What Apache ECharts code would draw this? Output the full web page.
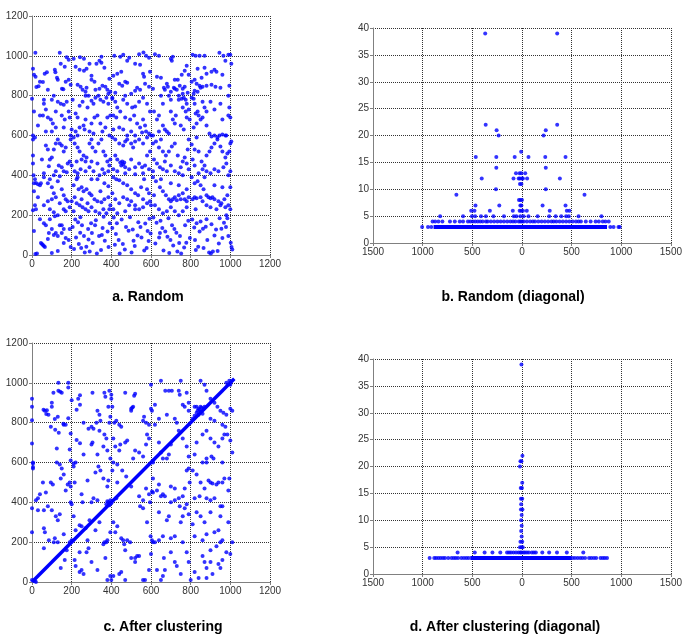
<!DOCTYPE html>
<html>
<head>
<meta charset="utf-8">
<script src="https://cdn.jsdelivr.net/npm/echarts@6/dist/echarts.min.js"></script>
<style>
html, body { margin: 0; padding: 0; background: #fff; }
#main { width: 685px; height: 634px; }
</style>
</head>
<body>
<div id="main"></div>
<script>
// axis ranges [min, max, interval]
var squareRange = [0, 1200, 200];
var diagXRange = [-1500, 1500, 500];
var diagYRange = [0, 40, 5];

var panelTitles = ['a. Random', 'b. Random (diagonal)', 'c. After clustering', 'd. After clustering (diagonal)'];

// a. random ordering, matrix non-zeros
var randomPts = [
  [17,1015],[140,1015],[175,993],[185,980],[5,935],[10,905],[18,895],[22,843],[33,847],[55,868],[64,910],[75,918],[118,918],[126,890],[130,880],[151,835],[158,832],[100,780],[60,780],[0,785],[40,870],[115,930],[170,870],[185,880],[195,855],[110,800],[145,960],[165,945],[80,830],
  [242,993],[262,985],[220,945],[240,930],[262,925],[275,935],[290,960],[230,855],[245,845],[255,830],[270,820],[275,840],[285,800],[300,880],[315,870],[325,960],[340,975],[350,965],[365,940],[320,830],[340,835],[355,850],[370,845],[380,830],[390,885],[395,820],[385,810],[300,900],[210,985],[350,995],
  [415,1000],[445,995],[460,1005],[480,975],[490,990],[540,1008],[562,1017],[575,1000],[590,990],[520,960],[545,955],[560,910],[565,895],[410,900],[430,910],[450,920],[440,860],[455,850],[470,870],[480,865],[500,810],[520,825],[530,840],[545,830],[570,860],[590,845],[420,815],[405,790],[470,800],[595,920],
  [620,1008],[640,1000],[700,985],[705,975],[710,995],[630,895],[650,890],[665,840],[670,830],[685,845],[700,820],[715,840],[720,835],[730,830],[745,850],[760,835],[770,845],[735,880],[755,905],[770,925],[780,950],[790,905],[650,800],[690,800],[740,800],[760,810],[785,815],[720,880],[610,835],[680,860],
  [810,1005],[825,1000],[845,1000],[870,1000],[945,1015],[965,1000],[990,1005],[1000,1005],[1005,960],[975,975],[920,930],[930,920],[905,920],[880,910],[855,890],[820,880],[805,870],[830,860],[845,850],[860,845],[880,850],[905,855],[925,845],[950,840],[995,850],[990,800],[820,825],[835,820],[815,810],[850,840],[960,905],[870,940],[835,935],
  [10,720],[5,600],[15,590],[40,700],[55,700],[70,730],[80,690],[95,680],[105,660],[120,640],[130,770],[145,760],[160,755],[175,770],[185,720],[190,690],[150,700],[165,680],[100,620],[70,620],[160,640],[200,630],[30,650],[120,720],[195,600],[60,760],
  [205,780],[220,710],[230,690],[240,750],[255,770],[270,800],[280,740],[300,775],[310,760],[320,790],[335,800],[345,780],[360,770],[375,790],[385,760],[220,620],[240,640],[260,650],[265,630],[290,620],[300,660],[315,690],[330,700],[345,660],[355,620],[370,640],[380,690],[395,700],[230,600],[270,680],[310,610],[390,600],
  [405,785],[420,770],[430,740],[460,780],[480,760],[505,740],[520,745],[540,770],[560,790],[580,760],[595,720],[410,700],[425,690],[445,720],[470,690],[495,680],[515,700],[530,660],[545,640],[560,680],[575,620],[590,610],[600,600],[410,630],[440,640],[460,630],[500,620],[520,600],[480,600],[555,615],[570,650],
  [615,720],[630,680],[640,700],[660,650],[670,630],[680,620],[700,720],[710,680],[725,700],[740,780],[755,785],[765,790],[775,780],[780,760],[790,730],[760,740],[775,720],[720,660],[750,650],[765,630],[640,620],[690,610],[610,600],[700,780],[660,760],[780,690],[795,680],
  [805,790],[815,785],[820,760],[825,710],[835,720],[840,700],[860,690],[870,740],[880,720],[850,680],[830,660],[895,610],[905,595],[920,600],[935,590],[945,600],[960,605],[975,600],[990,700],[1000,690],[995,740],[980,600],[1005,570],[860,770],[900,770],[920,730],[880,650],[960,680],[950,760],[815,640],
  [5,580],[5,500],[5,460],[8,400],[15,380],[10,360],[20,362],[30,355],[45,360],[60,410],[70,550],[80,530],[90,480],[100,490],[110,530],[120,560],[130,580],[140,560],[150,550],[160,520],[170,540],[180,460],[190,470],[200,450],[135,450],[150,440],[160,420],[175,415],[120,420],[50,480],[85,445],[110,400],[195,580],
  [210,590],[215,560],[230,540],[240,520],[250,480],[260,500],[270,470],[275,490],[290,560],[300,580],[305,540],[320,520],[335,560],[350,580],[360,520],[370,500],[380,470],[390,450],[215,420],[230,410],[245,430],[270,420],[290,440],[310,420],[330,460],[340,400],[355,430],[365,410],[385,420],[395,480],[225,470],[300,470],
  [405,590],[420,580],[440,560],[460,550],[470,570],[480,580],[500,560],[510,540],[520,570],[540,580],[560,560],[580,590],[420,500],[430,480],[445,465],[455,470],[460,455],[450,450],[465,465],[470,440],[490,430],[500,480],[520,440],[540,460],[555,440],[570,450],[590,430],[410,430],[430,420],[470,410],[520,405],[560,410],[580,500],[595,520],
  [610,560],[625,570],[640,540],[650,580],[660,520],[675,500],[690,520],[705,545],[720,560],[735,500],[750,440],[760,470],[770,490],[780,460],[790,430],[615,480],[630,460],[645,440],[660,430],[680,420],[700,450],[720,420],[740,410],[760,400],[785,530],[610,420],[670,470],[790,580],
  [805,555],[820,530],[830,590],[840,520],[855,470],[870,450],[880,500],[895,520],[905,540],[920,560],[935,580],[950,545],[960,520],[975,490],[985,510],[995,520],[1000,560],[980,460],[965,440],[940,420],[920,430],[900,410],[880,420],[860,430],[840,410],[820,450],[810,480],[990,400],[1000,420],
  [10,320],[15,250],[5,225],[20,230],[40,350],[60,390],[80,360],[90,380],[100,340],[110,310],[130,370],[140,395],[150,330],[160,300],[170,280],[180,270],[190,240],[200,270],[30,290],[60,250],[80,270],[100,280],[120,290],[140,260],[160,230],[170,220],[110,215],[90,230],[130,200],
  [210,350],[225,380],[235,330],[250,340],[260,320],[275,330],[290,310],[300,300],[315,280],[330,270],[350,265],[365,280],[385,290],[395,250],[215,290],[225,260],[240,250],[255,240],[270,230],[285,220],[300,240],[320,220],[340,210],[360,230],[375,210],[390,230],[210,220],[250,280],[280,260],[345,320],[365,360],[385,345],[230,390],[300,380],[330,380],
  [410,390],[425,380],[440,375],[460,360],[480,350],[500,330],[520,310],[535,300],[550,340],[565,380],[580,330],[595,270],[405,310],[420,280],[440,260],[460,290],[480,280],[500,270],[520,250],[540,230],[560,240],[580,260],[600,250],[410,230],[430,210],[470,220],[490,250],[520,230],[560,280],[590,310],
  [610,390],[625,370],[645,340],[660,320],[675,300],[690,280],[700,270],[710,280],[720,290],[730,275],[740,300],[750,280],[760,310],[770,280],[780,270],[790,290],[620,250],[640,230],[660,210],[680,220],[700,240],[720,220],[740,200],[760,220],[780,240],[650,380],[700,360],[740,350],[780,330],[615,300],
  [805,390],[820,360],[835,370],[850,350],[865,330],[880,300],[890,290],[900,285],[910,290],[920,280],[940,270],[955,260],[970,280],[985,300],[1000,340],[810,280],[820,290],[830,285],[850,290],[860,270],[880,250],[900,240],[930,230],[950,250],[975,240],[990,250],[1000,230],[960,340],[920,350],[870,390],[825,230],[980,200],
  [17,5],[25,8],[10,120],[45,60],[50,55],[55,50],[60,45],[65,40],[85,110],[100,130],[110,100],[120,110],[130,95],[140,150],[150,150],[150,110],[160,130],[170,85],[185,75],[60,160],[70,150],[40,180],[90,180],[115,195],[100,10],[130,20],[160,60],[190,130],[195,40],[80,80],
  [205,140],[218,178],[232,165],[243,112],[252,150],[262,95],[274,42],[283,130],[291,18],[306,60],[318,150],[327,8],[348,25],[356,135],[367,72],[381,118],[392,160],[222,88],[236,55],[248,35],[266,12],[285,78],[302,110],[322,175],[338,95],[361,192],[386,40],[212,30],[244,190],[298,160],[352,100],
  [405,135],[423,105],[437,75],[458,55],[468,28],[487,122],[502,12],[518,45],[536,165],[552,88],[566,22],[578,35],[588,70],[598,108],[412,188],[428,160],[452,178],[474,140],[494,190],[508,128],[532,98],[547,140],[571,158],[592,182],[418,52],[442,8],[512,72],[583,120],
  [612,188],[628,162],[648,172],[657,135],[672,118],[683,92],[698,75],[712,48],[718,130],[733,18],[752,8],[767,38],[778,62],[796,85],[622,58],[641,88],[663,22],[688,185],[706,150],[728,112],[746,96],[772,150],[788,172],[692,10],[742,60],[645,110],
  [808,178],[818,138],[826,25],[838,42],[845,118],[862,132],[876,142],[884,75],[893,12],[902,8],[912,18],[928,128],[942,58],[955,132],[968,162],[978,140],[990,95],[1002,62],[1006,40],[1010,28],[822,75],[850,168],[865,35],[905,155],[920,98],[946,185],[985,185],[880,180],[936,20],[960,85],[830,160]
];

// b. random ordering, distance from diagonal vs count
var randomDiagBand = [[-890, 3], [857, 3]];
var randomDiagPts = [
  [-1005,3],[-946,3],[-913,3],[890,3],[923,3],[972,3],[985,3],
  [-900,4],[-874,4],[-841,4],[-801,4],[-725,4],[-676,4],[-626,4],[-593,4],[-544,4],[-520,4],[-495,4],[-470,4],[-445,4],[-420,4],[-396,4],[-363,4],[-346,4],[-313,4],[-280,4],[-247,4],[-214,4],[-181,4],[-148,4],[-115,4],[-90,4],[-66,4],[-33,4],[-16,4],[0,4],[17,4],[50,4],[83,4],[110,4],[132,4],[165,4],[198,4],[231,4],[264,4],[297,4],[320,4],[346,4],[379,4],[412,4],[445,4],[478,4],[511,4],[544,4],[570,4],[594,4],[643,4],[692,4],[742,4],[775,4],[814,4],[841,4],[874,4],
  [-824,5],[-593,5],[-504,5],[-471,5],[-412,5],[-363,5],[-287,5],[-181,5],[-82,5],[-56,5],[-16,5],[17,5],[66,5],[158,5],[274,5],[340,5],[396,5],[445,5],[472,5],[570,5],[801,5],
  [-511,6],[-478,6],[-323,6],[-92,6],[-23,6],[-7,6],[10,6],[49,6],[280,6],[452,6],[478,6],
  [-468,7],[-228,7],[-16,7],[-5,7],[208,7],[439,7],
  [-30,8],[-15,8],[0,8],
  [-660,9],[630,9],
  [-262,10],[240,10],
  [-20,11],[-5,11],
  [-405,12],[-85,12],[-33,12],[-20,12],[0,12],[10,12],[52,12],[382,12],
  [-60,13],[-23,13],[-7,13],[33,13],
  [-258,14],[240,14],
  [-465,16],[-258,16],[-73,16],[66,16],[235,16],[439,16],
  [-8,17],
  [-235,20],[218,20],
  [-255,21],[240,21],
  [-365,22],[355,22],
  [-370,39],[355,39]
];

// c. after clustering
var clusterDiagLine = [[0, 0], [1020, 1020]];
var clusterNearDiag = [
  [830,850],[840,840],[845,865],[850,855],[855,875],[860,845],[865,870],[870,880],[850,880],[840,870],[820,835],[835,860],
  [375,390],[385,400],[390,385],[395,410],[400,395],[380,405],[980,1000],[1000,990],[995,1010],[190,200],[200,210]
];
var clusterPts = [
  [0,920],[0,880],[0,812],[58,865],[65,860],[75,862],[72,843],[83,840],[100,900],[100,880],[108,950],[133,1000],[142,955],[133,960],[183,1000],[183,977],[115,818],[130,830],[150,950],[160,790],
  [0,695],[5,600],[135,750],[117,765],[158,795],[183,822],[125,670],[195,745],[190,665],[195,610],[95,780],[170,790],
  [5,595],[5,578],[5,570],[20,410],[30,420],[40,440],[55,500],[70,450],[60,360],[80,380],[95,500],[105,490],[125,600],[140,590],[145,520],[160,540],[180,490],[190,500],[195,480],[150,570],[170,460],[195,400],[200,390],
  [0,370],[0,250],[30,360],[60,270],[65,250],[85,210],[115,220],[120,330],[130,310],[140,340],[160,240],[100,360],
  [0,10],[15,5],[20,0],[60,170],[110,200],[130,200],[145,70],[165,110],[175,160],
  [200,912],[225,865],[233,920],[242,938],[242,890],[305,950],[330,860],[340,840],[345,810],[365,950],[370,930],[390,960],[300,780],[310,770],[385,880],[395,830],[390,800],[325,800],[285,770],[260,800],
  [225,713],[242,697],[220,600],[300,690],[305,700],[340,760],[365,740],[375,720],[330,640],[360,680],[380,660],[395,620],[260,640],
  [210,595],[210,580],[215,500],[250,440],[255,400],[280,510],[320,550],[335,580],[345,560],[360,520],[380,480],[385,510],[300,400],[310,420],[330,410],
  [210,330],[220,260],[240,285],[250,280],[270,270],[290,310],[320,260],[340,300],[360,190],[365,200],[375,200],[380,210],[395,250],[280,210],
  [215,110],[220,80],[240,150],[250,60],[260,40],[275,150],[285,170],[300,100],[330,60],[370,120],[380,10],[400,10],[395,30],[240,50],
  [400,940],[400,920],[405,880],[415,800],[425,810],[440,790],[450,780],[500,870],[500,860],[505,875],[510,880],[515,935],[520,945],[470,950],[560,810],[565,830],[575,800],[590,790],[590,720],[580,740],
  [410,720],[420,680],[440,660],[445,690],[470,700],[480,710],[510,620],[520,660],[540,650],[560,630],[575,690],[410,600],[430,590],
  [405,560],[430,500],[455,560],[475,530],[500,480],[540,430],[560,410],[575,470],[590,440],[595,400],[605,455],[610,450],[425,420],
  [410,300],[430,280],[450,220],[460,210],[465,190],[470,160],[480,210],[495,200],[520,120],[530,130],[545,380],[560,370],[580,300],[598,230],[605,210],[610,200],[420,250],
  [410,30],[440,40],[450,50],[470,10],[500,120],[520,100],[540,130],[560,10],[570,10],[590,60],[600,140],
  [600,990],[600,870],[605,860],[620,890],[650,1010],[672,960],[690,960],[705,960],[740,960],[750,1010],[745,940],[760,890],[770,880],[780,950],[790,900],[640,820],[680,840],[720,820],[730,800],[790,860],
  [620,790],[640,700],[650,650],[660,620],[690,640],[700,690],[740,760],[760,720],[780,680],[790,630],[610,600],[680,620],
  [610,520],[640,490],[650,430],[660,440],[670,430],[700,480],[720,470],[740,420],[745,380],[760,430],[770,470],[780,560],[790,570],[795,500],[630,460],[700,400],[720,410],
  [640,350],[660,230],[680,310],[690,330],[700,220],[720,230],[750,300],[760,330],[770,370],[780,390],[790,340],[620,200],[640,210],
  [630,60],[650,10],[660,30],[665,120],[670,60],[720,100],[730,80],[760,200],[780,150],[790,100],[700,150],[750,40],
  [850,1010],[870,990],[880,960],[900,920],[920,900],[935,880],[950,860],[965,850],[980,840],[1000,870],[1010,860],[820,880],[830,880],[810,820],[960,790],[975,780],[900,820],[920,810],
  [860,740],[880,760],[900,720],[920,700],[940,680],[960,720],[970,740],[985,740],[1000,710],[1010,650],[905,630],[915,620],[880,620],[830,700],[820,640],[960,600],
  [860,600],[880,600],[890,510],[900,500],[910,495],[930,490],[940,500],[960,500],[970,520],[880,420],[900,410],[920,420],[950,380],[960,380],[830,540],[810,560],[850,500],[870,470],[820,420],[845,430],[990,460],[995,520],
  [880,240],[920,250],[940,260],[950,200],[960,210],[1010,200],[810,290],[830,350],[850,330],[870,300],[900,350],[950,330],[990,300],[820,230],[860,210],
  [980,150],[1000,140],[900,160],[860,130],[870,100],[900,100],[940,90],[960,110],[800,10],[840,20],[910,40],[820,50],[880,20],[930,180],[950,70],[880,70]
];

// d. after clustering, distance from diagonal vs count
var clusteredDiagBand = [[-520, 3], [500, 3]];
var clusteredDiagPts = [
  [-930,3],[-883,3],[-864,3],[-841,3],[-818,3],[-795,3],[-775,3],[-742,3],[-709,3],[-686,3],[-666,3],[-643,3],[-610,3],[-584,3],[-560,3],[-537,3],
  [511,3],[534,3],[561,3],[587,3],[610,3],[636,3],[676,3],[699,3],[725,3],[748,3],[791,3],[814,3],[834,3],[857,3],
  [-648,4],[-475,4],[-376,4],[-297,4],[-218,4],[-150,4],[-130,4],[-110,4],[-85,4],[-60,4],[-35,4],[-16,4],[-5,4],[15,4],[30,4],[50,4],[70,4],[100,4],[120,4],[140,4],[205,4],[274,4],[353,4],[452,4],[618,4],
  [-20,5],[-5,5],[8,5],[-15,6],[3,6],[-3,7],[-8,8],[-3,9],[-8,10],[-3,11],[-10,12],[5,12],[-8,13],[-10,14],[3,14],[-12,16],[0,16],[3,17],[-20,20],[-15,21],[-5,21],[5,22],[-5,39]
];

var labelFont = "'Liberation Sans Narrow', 'Liberation Sans', Arial, sans-serif";
var blue = '#0000ff';

function plainLabel(v) { return String(v); }
function absLabel(v) { return String(Math.abs(v)); }

function makeAxis(gi, range, fmt) {
  return {
    type: 'value',
    gridIndex: gi,
    min: range[0],
    max: range[1],
    interval: range[2],
    axisLine: { show: true, onZero: false, lineStyle: { color: '#808080', width: 1 } },
    axisTick: { show: true, length: 3, lineStyle: { color: '#808080' } },
    axisLabel: {
      fontSize: 10, color: '#333', fontFamily: labelFont, margin: 4,
      showMinLabel: true, showMaxLabel: true, formatter: fmt || plainLabel
    },
    splitLine: { show: true, lineStyle: { type: 'dotted', color: '#333', width: 1 } }
  };
}

var grids = [
  { left: 32, top: 16, width: 238, height: 239 },
  { left: 373, top: 28, width: 304, height: 215 },
  { left: 32, top: 343, width: 238, height: 239 },
  { left: 373, top: 359, width: 304, height: 215 }
];

var titlePos = [[148, 297], [513, 297], [163, 627], [505, 627]];

var chart = echarts.init(document.getElementById('main'), null, { renderer: 'canvas' });

var option = {
  animation: false,
  backgroundColor: '#fff',
  grid: grids,
  xAxis: [
    makeAxis(0, squareRange),
    makeAxis(1, diagXRange, absLabel),
    makeAxis(2, squareRange),
    makeAxis(3, diagXRange, absLabel)
  ],
  yAxis: [
    makeAxis(0, squareRange),
    makeAxis(1, diagYRange),
    makeAxis(2, squareRange),
    makeAxis(3, diagYRange)
  ],
  series: [
    { type: 'scatter', xAxisIndex: 0, yAxisIndex: 0, data: randomPts, symbolSize: 4, itemStyle: { color: blue }, silent: true },
    { type: 'line', xAxisIndex: 1, yAxisIndex: 1, data: randomDiagBand, symbol: 'none', lineStyle: { color: blue, width: 4 }, silent: true },
    { type: 'scatter', xAxisIndex: 1, yAxisIndex: 1, data: randomDiagPts, symbolSize: 4, itemStyle: { color: blue }, silent: true },
    { type: 'line', xAxisIndex: 2, yAxisIndex: 2, data: clusterDiagLine, symbol: 'none', lineStyle: { color: blue, width: 3.5 }, silent: true },
    { type: 'scatter', xAxisIndex: 2, yAxisIndex: 2, data: clusterNearDiag, symbolSize: 4, itemStyle: { color: blue }, silent: true },
    { type: 'scatter', xAxisIndex: 2, yAxisIndex: 2, data: clusterPts, symbolSize: 4, itemStyle: { color: blue }, silent: true },
    { type: 'line', xAxisIndex: 3, yAxisIndex: 3, data: clusteredDiagBand, symbol: 'none', lineStyle: { color: blue, width: 4 }, silent: true },
    { type: 'scatter', xAxisIndex: 3, yAxisIndex: 3, data: clusteredDiagPts, symbolSize: 4, itemStyle: { color: blue }, silent: true }
  ],
  graphic: panelTitles.map(function (t, i) {
    return {
      type: 'text',
      x: titlePos[i][0],
      y: titlePos[i][1],
      style: {
        text: t,
        fill: '#000',
        fontSize: 14,
        fontWeight: 'bold',
        fontFamily: "'Liberation Sans', Arial, sans-serif",
        align: 'center',
        verticalAlign: 'middle'
      }
    };
  })
};

chart.setOption(option);
</script>
</body>
</html>
